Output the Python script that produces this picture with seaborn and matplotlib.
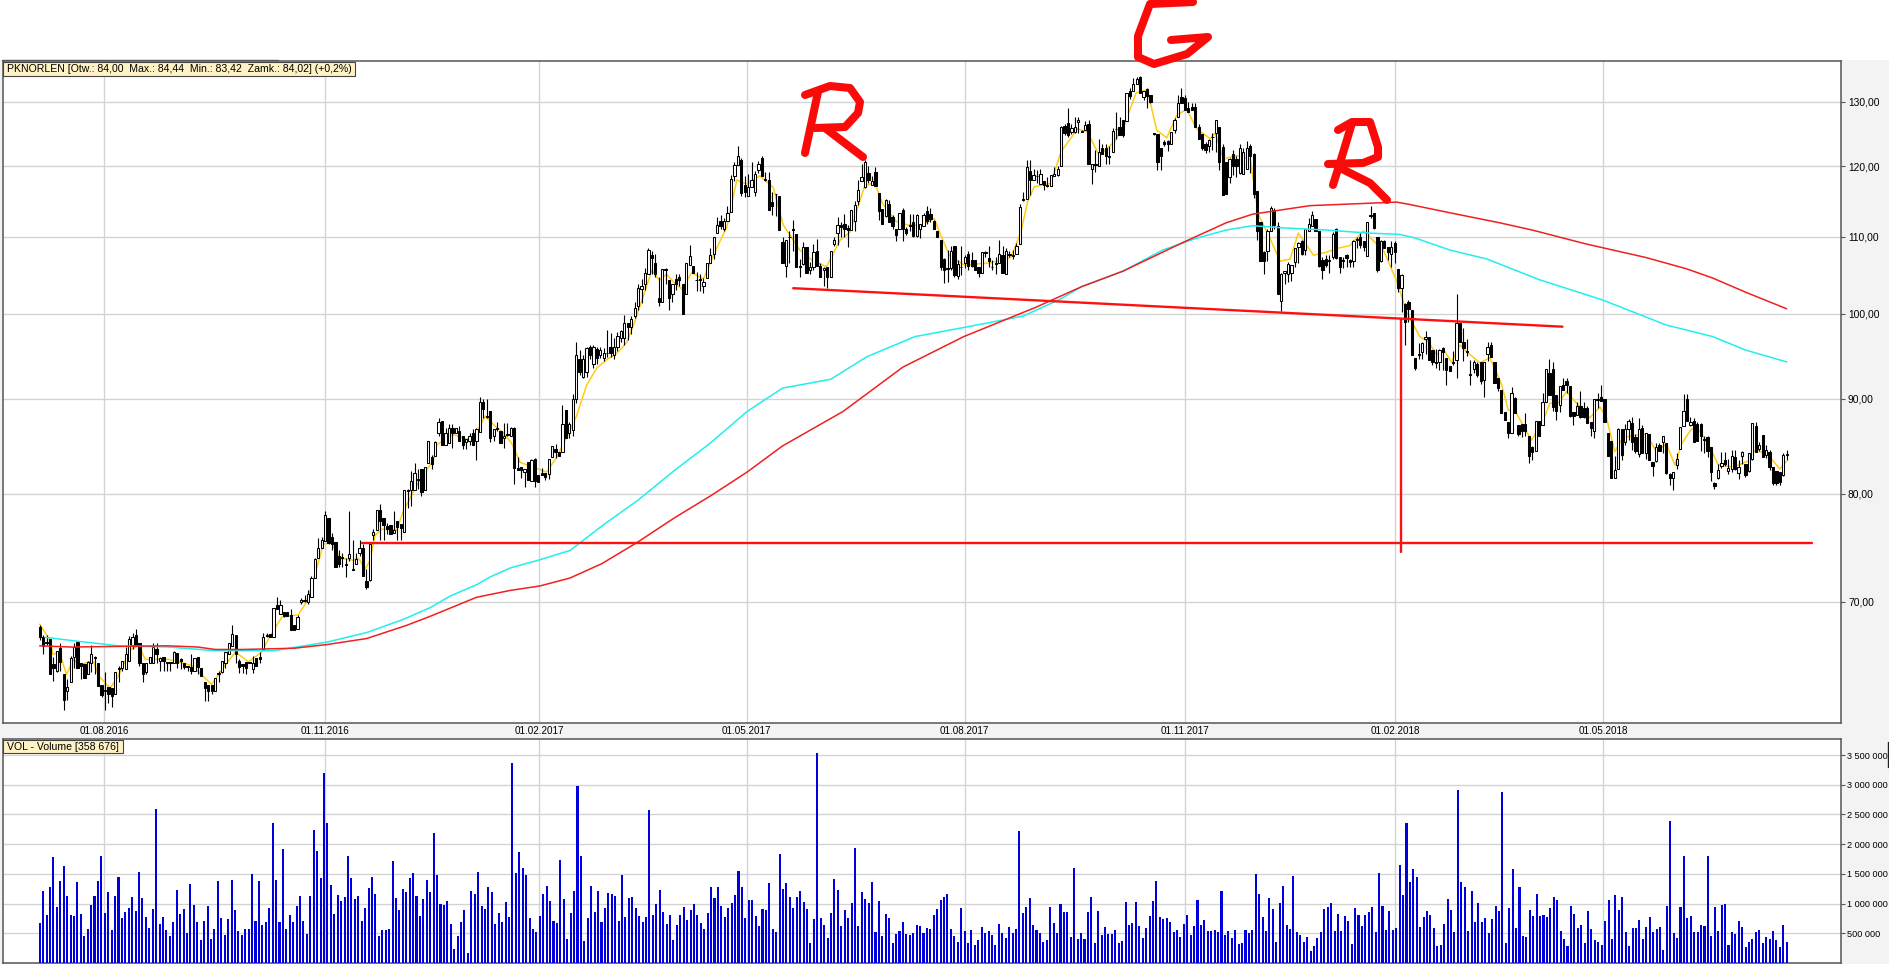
import numpy as np
import matplotlib
matplotlib.use("Agg")
import matplotlib.pyplot as plt
from matplotlib.lines import Line2D
from matplotlib.patches import Rectangle
import seaborn as sns

sns.set_theme(style="white")
plt.rcParams["font.family"] = ["Liberation Sans", "DejaVu Sans"]

# --- sesje: open / close / high / low ---
open_ = [
    67.9,67.0,66.6,66.9,64.8,64.3,66.1,64.0,62.7,63.4,
    65.4,66.6,64.9,64.8,64.0,64.9,65.4,64.9,63.2,62.8,
    63.0,62.9,62.5,64.5,64.5,64.4,65.1,66.4,67.2,66.5,
    64.9,64.2,64.9,64.9,66.0,65.1,65.4,65.0,65.0,64.9,
    65.7,65.2,64.9,64.7,64.6,64.3,65.4,64.5,63.4,63.2,
    63.2,62.7,64.1,64.2,64.9,65.6,66.3,67.2,65.1,64.8,
    65.0,65.0,64.4,65.3,65.4,66.0,67.2,67.3,67.0,69.7,
    69.0,69.1,69.1,68.9,68.0,67.7,70.0,70.2,70.0,70.4,
    72.1,73.9,74.8,75.5,77.7,75.9,75.4,74.1,73.9,73.4,
    73.9,72.9,73.4,74.4,74.8,71.8,71.9,76.0,76.5,78.4,
    77.7,76.9,77.0,76.2,77.4,77.1,76.3,80.4,80.4,80.4,
    81.5,82.5,80.4,83.1,83.7,83.8,86.3,87.6,85.0,85.2,
    86.8,86.3,86.5,86.0,85.3,85.4,86.3,85.4,86.4,89.7,
    88.1,88.7,86.0,86.8,86.5,85.7,86.2,86.0,86.8,82.6,
    82.7,82.2,83.2,81.3,83.5,81.9,82.1,82.1,82.0,83.7,
    84.6,84.3,84.3,88.8,86.3,86.6,90.0,94.5,92.5,93.0,
    96.0,94.0,95.7,95.0,94.7,95.3,96.0,95.0,96.0,97.0,
    97.0,98.8,98.4,99.7,100.9,103.1,103.8,105.0,107.5,106.5,
    102.0,101.4,105.7,104.2,102.4,104.4,104.6,103.8,102.5,106.2,
    106.1,104.3,104.4,103.5,104.5,106.5,107.6,110.5,112.1,111.0,
    112.1,113.4,118.5,120.2,121.0,117.3,115.7,116.9,116.3,119.5,
    121.3,118.1,118.0,114.8,116.0,115.7,109.3,106.1,110.0,111.0,
    110.3,106.1,106.4,108.6,105.5,106.0,108.1,106.1,105.6,105.9,
    104.6,109.0,110.5,111.6,111.7,111.2,110.9,112.2,115.0,117.8,
    117.0,119.0,117.3,119.1,116.1,113.8,112.8,114.5,112.7,111.0,
    111.0,113.7,111.0,111.6,112.0,110.1,111.1,111.5,113.6,113.1,
    112.2,110.7,109.5,107.0,105.8,105.8,108.7,104.8,106.0,106.5,
    107.7,106.9,106.8,105.9,105.1,107.9,107.1,106.0,106.4,106.5,
    107.5,105.0,107.6,107.5,107.6,109.0,115.2,115.2,119.3,118.0,
    118.6,117.4,117.8,117.2,117.1,118.6,118.7,120.0,126.2,126.6,
    125.2,125.2,126.8,125.4,125.5,126.4,119.6,120.3,120.1,122.8,
    122.8,121.5,122.2,125.7,126.0,127.0,126.9,131.8,131.8,132.9,
    134.1,130.8,132.0,131.1,125.0,124.9,122.7,123.6,123.8,123.4,
    125.5,127.5,130.8,130.6,129.0,129.2,129.2,126.0,124.9,123.4,
    123.1,124.5,125.0,126.0,122.9,120.6,118.4,121.9,121.1,119.0,
    118.9,119.6,123.0,121.9,116.4,112.0,107.9,108.0,110.8,113.7,
    111.5,101.6,105.2,105.0,105.1,106.6,108.6,109.4,108.2,110.7,
    111.5,112.4,110.7,106.9,107.0,106.8,107.3,111.0,107.3,106.9,
    107.5,106.8,106.7,109.7,109.9,109.4,107.4,112.8,113.2,110.0,
    106.7,109.4,108.6,107.6,109.2,105.7,103.2,101.2,101.4,100.4,
    94.7,95.1,95.4,96.9,97.2,95.6,94.2,94.2,95.8,94.7,
    93.7,94.2,94.4,98.8,96.5,95.5,92.8,93.4,94.0,94.2,
    92.1,95.1,96.2,94.2,92.3,91.0,88.5,87.5,86.3,90.1,
    87.1,87.2,87.2,85.9,84.8,84.4,87.6,87.1,89.6,92.9,
    93.4,90.4,89.3,91.5,92.0,91.4,88.5,88.2,89.2,89.0,
    89.0,87.4,86.5,90.0,90.2,90.0,86.3,85.4,81.6,82.5,
    86.7,85.3,86.7,87.3,85.8,84.1,86.8,84.2,86.2,83.2,
    83.3,85.0,85.3,85.2,82.0,81.6,82.9,84.6,87.0,90.0,
    87.1,87.6,87.2,87.2,85.6,85.8,84.8,81.1,81.6,82.8,
    83.4,82.3,82.5,83.7,82.1,83.9,83.0,82.3,83.5,87.0,
    84.6,86.1,84.0,84.3,82.7,82.3,82.2,81.9,84.0,
]
close = [
    67.0,66.3,66.5,64.0,64.5,65.9,65.0,62.0,63.0,65.3,
    66.2,64.5,64.7,63.7,65.0,65.6,65.3,63.1,62.4,62.7,
    62.5,62.3,64.2,64.4,65.1,65.6,66.9,67.0,66.4,64.9,
    64.0,64.9,65.4,66.2,65.6,65.3,65.1,64.9,64.9,65.8,
    64.9,65.1,64.6,64.6,64.3,65.3,64.6,63.9,62.9,62.7,
    62.7,63.7,64.0,65.1,65.8,66.5,67.3,65.6,64.6,64.7,
    64.5,64.9,64.9,64.7,65.2,67.0,67.1,67.0,69.5,69.4,
    69.7,68.8,68.8,67.6,67.6,68.7,70.2,70.1,70.7,72.1,
    73.8,74.8,75.6,77.9,75.3,75.2,73.1,73.4,74.0,73.3,
    74.3,72.8,73.8,74.8,72.3,71.3,75.2,76.3,78.4,77.4,
    77.0,76.6,76.1,76.5,76.8,76.7,80.4,80.3,81.3,82.1,
    81.4,80.2,82.7,85.4,83.0,85.3,87.4,85.0,86.3,86.8,
    86.3,86.8,85.4,85.0,85.6,85.9,85.0,86.7,89.7,88.9,
    88.0,85.7,86.7,86.7,85.2,86.0,86.1,86.8,82.6,82.4,
    82.4,82.5,81.4,83.4,81.3,81.2,81.9,81.7,83.5,84.9,
    84.3,83.9,87.2,85.7,87.2,90.0,95.0,93.0,94.5,95.8,
    95.0,96.0,94.7,95.6,95.2,95.2,95.2,96.0,97.3,97.9,
    98.8,98.4,99.4,100.7,103.2,103.5,105.2,108.2,107.1,105.0,
    101.5,105.7,105.6,101.9,103.8,103.8,104.2,99.9,106.5,107.4,
    105.1,104.2,104.3,104.0,106.5,107.5,110.0,111.6,111.5,112.1,
    113.3,118.2,120.2,121.6,116.1,116.2,116.9,118.0,118.8,120.3,
    118.6,118.0,113.7,114.3,115.9,110.9,106.5,109.6,109.9,110.9,
    106.0,106.0,108.6,105.2,106.0,107.9,106.1,104.6,105.8,104.6,
    108.1,109.5,111.6,111.3,111.0,110.9,113.7,114.4,116.6,118.4,
    120.6,118.0,117.8,117.1,113.5,111.8,115.1,112.0,111.4,110.2,
    113.2,111.0,110.5,111.5,110.1,113.0,111.8,113.0,112.2,112.4,
    111.0,109.9,106.0,105.6,105.7,108.0,104.9,106.3,105.9,107.2,
    106.1,106.1,105.6,105.1,107.9,107.8,106.7,105.9,106.5,107.6,
    105.2,108.0,107.5,107.4,108.7,114.1,115.1,119.9,118.0,118.7,
    118.5,118.8,117.2,117.1,118.7,118.8,119.6,126.0,125.1,124.7,
    125.9,126.0,127.1,125.2,126.3,120.3,120.3,120.2,122.2,121.9,
    121.5,121.4,125.4,125.6,124.7,124.7,131.4,130.9,132.8,133.7,
    131.4,131.8,130.9,130.0,124.9,120.7,121.6,123.4,123.4,125.2,
    127.0,129.7,129.7,128.7,128.4,128.7,126.0,124.1,122.7,122.5,
    123.9,124.4,127.1,120.6,115.8,115.9,121.1,120.1,120.0,122.7,
    122.2,122.7,121.5,116.0,110.8,106.7,106.7,110.8,113.9,111.6,
    102.5,105.0,105.4,106.4,106.2,108.5,109.1,107.7,111.0,111.8,
    113.0,110.7,106.1,105.6,106.2,106.7,110.3,107.1,106.0,106.7,
    107.1,106.6,109.4,109.6,108.8,108.6,112.0,113.0,111.2,105.5,
    109.4,108.5,107.9,108.6,107.9,103.2,104.9,99.0,100.6,95.0,
    93.5,95.0,96.4,97.2,94.4,94.2,94.1,95.6,95.4,93.3,
    93.1,94.1,98.8,96.5,95.8,95.4,92.7,94.2,92.7,92.0,
    94.2,95.9,94.8,91.8,91.2,88.4,87.7,86.3,90.7,88.4,
    86.2,86.5,86.5,83.8,84.3,87.6,85.9,89.6,93.4,90.4,
    89.1,88.6,91.4,91.0,91.5,88.1,88.1,89.2,88.0,88.0,
    87.3,86.8,90.0,89.9,89.8,87.4,83.9,81.6,82.4,86.7,
    84.0,86.7,87.6,85.3,84.4,86.7,84.2,86.3,83.4,82.8,
    84.8,84.4,85.9,82.1,81.6,82.2,83.5,86.9,88.6,87.6,
    87.5,85.3,85.4,86.0,85.5,84.4,82.2,80.8,82.4,83.1,
    83.0,82.6,83.8,82.5,82.7,84.3,81.9,84.2,87.3,84.3,
    85.0,83.7,84.5,82.7,81.1,81.1,81.2,84.0,84.02,
]
high = [
    68.0,67.2,67.2,66.9,65.4,65.9,66.5,64.0,63.6,65.5,
    66.5,66.7,64.9,64.8,65.1,66.4,65.5,64.9,63.2,64.2,
    63.0,62.9,64.2,64.7,65.1,66.2,67.1,67.4,67.7,66.5,
    64.9,64.9,65.4,66.5,66.5,65.4,65.4,65.0,65.0,65.9,
    65.7,65.3,64.9,64.7,65.6,65.3,65.4,64.5,63.4,63.2,
    63.2,63.7,64.3,65.1,65.8,66.5,68.0,67.2,65.2,64.8,
    65.0,65.0,65.5,65.3,65.8,67.4,67.4,67.3,69.5,70.4,
    70.2,69.1,69.1,69.4,68.0,68.9,70.3,70.6,71.0,72.3,
    73.9,75.8,75.9,78.3,77.7,76.2,75.4,74.6,74.4,73.9,
    78.3,75.6,74.4,75.6,75.2,72.9,75.2,76.6,78.4,79.0,
    77.7,77.2,77.0,78.3,77.4,77.1,80.4,80.5,82.3,83.1,
    82.5,82.5,82.7,85.4,84.0,85.4,87.9,87.6,86.8,87.2,
    87.2,86.8,87.0,86.0,85.6,86.3,86.7,86.8,90.2,90.0,
    90.0,88.7,86.7,87.5,86.5,87.3,87.3,86.9,86.9,83.7,
    82.7,82.5,83.2,83.5,83.6,81.9,82.6,82.1,83.5,84.9,
    85.1,84.3,89.3,88.8,87.5,90.5,96.6,95.6,95.0,96.0,
    96.2,96.2,96.0,96.0,95.8,98.0,97.6,97.0,97.7,98.0,
    99.8,98.8,99.7,101.5,103.7,104.4,105.8,108.5,108.0,107.6,
    104.6,105.7,105.8,104.2,103.8,105.0,105.0,103.8,106.5,108.8,
    106.1,105.3,105.0,104.5,106.5,108.5,110.0,112.7,113.0,112.6,
    114.3,118.7,120.7,123.0,121.2,118.5,118.8,120.7,119.3,120.8,
    121.6,119.2,119.2,116.3,116.0,115.7,110.0,109.6,110.7,112.3,
    110.3,107.0,109.3,108.6,106.6,109.0,109.7,106.5,106.0,105.9,
    108.1,110.0,112.7,112.0,113.1,111.6,113.7,115.0,118.0,120.3,
    120.9,120.0,118.5,119.9,116.1,113.8,115.2,115.1,113.0,111.0,
    113.3,113.9,111.3,113.1,113.1,113.1,111.8,113.2,114.3,113.9,
    112.3,110.7,109.5,107.1,108.2,108.7,108.7,106.8,108.7,107.5,
    108.0,107.9,106.8,105.9,107.9,108.0,108.7,106.8,107.2,109.5,
    108.7,108.5,108.0,108.2,109.2,114.6,116.3,121.0,120.9,119.6,
    119.5,119.6,117.8,118.4,118.7,119.9,120.1,126.1,126.5,128.9,
    126.5,127.5,127.6,125.5,126.9,127.0,120.3,122.4,124.2,123.3,
    123.4,123.1,125.9,128.3,127.5,127.0,131.4,132.2,133.8,134.1,
    134.2,131.8,132.2,131.1,125.0,124.9,122.7,124.0,124.0,125.2,
    127.4,131.1,132.2,131.0,130.0,129.8,129.8,126.4,124.9,123.6,
    124.2,125.0,127.1,126.0,123.4,120.6,121.3,122.5,121.6,123.4,
    122.7,123.8,123.4,122.0,116.4,112.0,108.0,111.0,114.3,114.0,
    112.0,105.1,105.4,106.6,106.2,108.5,109.3,109.6,111.0,112.5,
    113.6,112.4,110.7,107.2,107.5,107.5,110.6,111.2,107.3,107.2,
    107.6,107.0,109.5,110.0,110.5,109.4,112.0,114.3,113.2,110.0,
    109.5,109.6,108.6,109.4,109.4,105.7,105.0,101.3,101.7,100.5,
    94.7,96.4,96.5,97.9,97.2,95.6,95.7,95.7,95.9,94.7,
    93.7,95.5,102.4,98.8,98.2,96.9,94.4,94.4,94.2,94.2,
    94.2,96.6,96.6,94.2,92.3,91.0,88.5,87.5,91.3,90.2,
    87.1,87.2,88.4,85.9,84.9,87.6,87.6,90.7,93.4,94.5,
    94.2,90.4,91.4,92.4,92.3,91.4,88.5,89.6,90.9,89.6,
    89.2,87.4,90.0,90.7,91.6,90.0,86.3,85.4,83.9,86.8,
    86.7,87.2,87.8,88.0,86.2,87.9,87.1,86.3,86.2,83.2,
    85.2,85.2,85.9,85.2,82.1,82.2,84.2,86.9,90.5,90.5,
    88.0,87.9,87.4,87.3,86.0,86.0,84.8,81.2,83.0,84.3,
    84.3,83.5,84.5,84.5,83.4,84.4,83.0,84.2,87.3,87.5,
    85.3,86.1,85.0,84.5,82.7,82.3,82.2,84.2,84.44,
]
low = [
    66.8,65.6,66.4,64.0,63.5,64.2,64.3,61.2,62.0,63.4,
    64.5,64.5,63.6,63.7,64.0,64.2,64.0,63.1,62.2,61.2,
    61.8,61.5,62.5,63.4,64.3,64.4,65.1,66.0,66.4,64.7,
    63.4,64.0,64.9,64.9,64.9,64.3,64.3,64.3,64.3,64.9,
    64.5,64.4,64.4,64.3,64.0,64.3,64.0,63.9,61.9,61.9,
    62.5,62.7,63.4,64.1,64.5,65.6,66.3,64.9,64.1,64.1,
    64.0,64.9,64.1,64.7,64.9,66.0,67.0,67.0,67.0,69.4,
    69.0,68.7,68.8,67.6,67.6,67.7,69.8,70.0,69.8,70.4,
    72.1,73.9,74.8,75.5,75.2,74.6,73.1,73.1,73.1,72.2,
    73.6,72.8,73.4,74.1,72.3,71.1,71.8,75.6,76.5,75.6,
    75.6,76.1,76.1,76.2,75.6,75.6,76.3,78.6,78.8,80.4,
    80.5,79.8,80.4,83.1,82.5,83.8,85.9,85.0,85.0,85.2,
    84.7,86.3,85.4,84.6,84.6,85.0,85.0,83.4,86.4,87.9,
    87.9,85.3,85.4,86.5,85.2,84.7,86.0,86.0,81.0,82.4,
    81.6,80.7,81.4,81.3,80.7,81.2,81.9,81.4,81.5,83.7,
    83.6,83.9,84.3,85.7,85.7,86.0,89.5,92.7,92.3,92.5,
    94.5,93.5,94.0,94.7,94.3,94.8,94.8,94.5,95.5,96.5,
    96.2,96.8,97.5,99.5,100.5,101.3,103.0,105.0,105.0,104.6,
    101.0,101.4,103.7,100.5,101.5,103.0,103.5,99.9,102.5,106.2,
    105.1,102.9,102.9,102.6,104.5,106.5,107.0,110.5,111.0,110.8,
    112.1,113.4,117.9,120.2,115.7,115.5,115.7,116.9,115.6,119.0,
    118.6,117.8,113.7,113.0,112.9,110.9,106.5,104.7,106.5,108.0,
    106.0,104.7,106.2,105.2,105.0,105.5,106.1,104.6,103.5,103.2,
    104.6,108.7,108.8,110.0,110.0,108.6,110.9,110.7,114.4,117.8,
    116.8,117.5,117.2,117.1,112.3,111.7,112.7,112.0,111.0,109.4,
    111.0,109.4,110.2,110.8,110.0,110.0,109.8,111.5,111.8,112.0,
    111.0,109.9,105.6,103.9,104.0,105.6,104.6,104.4,104.9,105.8,
    105.6,106.0,105.6,104.6,105.1,107.2,106.0,105.6,105.0,106.5,
    105.1,105.0,107.3,107.0,107.6,109.0,115.0,115.2,115.8,118.0,
    117.5,117.4,116.5,117.0,117.1,118.5,118.5,120.0,124.7,124.4,
    124.9,125.0,125.0,125.2,125.5,120.3,117.4,119.1,120.1,121.9,
    120.4,120.3,122.2,124.1,124.7,124.4,126.9,130.5,131.8,132.9,
    131.4,130.2,128.9,129.7,124.7,119.5,119.5,123.0,122.3,123.4,
    125.0,127.5,129.7,128.7,128.4,128.7,126.0,124.1,122.4,122.0,
    122.2,122.4,122.2,119.5,115.8,115.9,117.5,118.7,118.4,118.8,
    118.9,119.6,119.0,115.4,109.5,106.7,105.0,106.7,110.8,111.0,
    102.4,100.3,103.8,104.0,104.1,106.0,106.5,107.5,107.5,110.7,
    111.5,110.7,106.0,104.4,106.0,105.1,107.0,107.0,105.2,105.8,
    106.0,105.9,106.0,108.5,108.5,108.0,107.4,112.5,111.0,105.3,
    106.6,108.5,106.8,106.0,106.5,102.7,100.2,96.2,99.0,95.0,
    93.3,94.5,94.5,95.1,94.4,93.8,93.5,93.3,93.3,91.5,
    93.1,93.9,92.3,96.5,94.3,94.9,91.6,92.9,92.5,91.7,
    90.2,94.3,94.8,91.8,90.9,88.4,87.7,85.7,86.3,88.4,
    86.0,85.8,85.9,83.1,83.4,84.4,85.9,87.1,89.6,90.4,
    88.6,87.7,88.5,91.0,90.6,88.0,87.1,88.2,87.9,87.9,
    87.3,85.9,85.7,89.0,89.8,87.4,83.9,81.6,81.6,82.5,
    83.4,85.0,85.5,84.5,84.2,83.7,84.2,83.5,83.4,81.8,
    83.2,84.4,84.2,82.0,80.9,80.4,82.5,84.6,87.0,87.6,
    87.0,85.3,85.4,84.4,84.2,83.7,81.3,80.5,81.5,82.6,
    82.8,82.0,82.2,82.4,81.5,83.0,81.7,82.2,83.4,84.3,
    84.4,83.7,83.6,82.4,80.9,80.9,80.9,81.8,83.42,
]

# wolumen w tysiacach sztuk
volume_k = [
    672,1210,806,1277,1780,940,1378,1630,1125,806,790,1360,823,454,571,974,1125,1378,1798,840,
    1193,554,1125,1445,756,857,924,1109,874,1529,1092,773,588,907,2587,655,773,554,454,689,
    1226,823,907,504,1327,974,689,386,706,958,403,571,1378,756,470,739,1394,890,538,470,
    571,571,1495,706,1378,638,689,924,2352,1394,689,1915,571,806,689,958,1125,706,487,1125,
    2234,1882,1428,3200,2352,1310,823,1142,1042,1109,1798,1428,1075,1125,706,924,1260,1445,1159,454,
    554,554,571,1714,1092,890,1243,1193,1428,1512,1125,790,1075,1394,1193,2184,1478,991,974,1042,
    655,235,454,689,890,168,1210,1159,1529,958,907,1277,1193,655,840,689,1025,773,3360,1512,
    1865,1596,1478,756,571,521,790,1159,1294,1042,706,672,1730,1075,403,840,1210,2974,1798,370,
    756,1294,857,1210,689,924,1176,1159,1126,706,1478,773,1092,1109,924,790,689,773,2570,806,
    991,1226,857,655,806,386,638,806,941,722,890,991,806,672,571,840,1277,1092,1277,958,
    773,924,1008,1142,1546,1277,756,1058,1058,790,622,907,890,1344,571,521,1831,1243,1344,1109,
    924,1109,1210,1025,907,336,739,3528,756,638,420,840,1411,1226,622,890,756,1008,1932,622,
    1193,1075,1008,1361,521,1042,454,823,756,336,487,538,689,487,470,504,638,622,504,588,
    571,806,907,
    1058,1109,1159,571,454,353,924,538,336,554,302,386,605,504,538,470,302,655,504,420,
    605,504,571,2218,840,941,1092,638,554,504,353,386,941,672,504,991,857,857,437,1596,
    403,504,403,857,1109,336,874,470,605,487,487,554,336,370,1025,638,672,1025,622,420,
    588,790,1042,1378,773,739,756,689,521,554,437,655,806,470,622,1058,638,722,538,538,
    554,521,1210,470,538,420,554,319,336,554,504,554,1495,1159,773,538,1092,907,353,1008,
    1294,638,571,1462,521,470,353,437,202,286,420,521,907,941,1008,538,823,538,790,706,
    319,924,806,622,806,857,941,521,1512,958,554,874,554,588,1646,1142,2352,1361,1579,1445,
    605,773,874,806,588,286,302,655,1075,890,521,2906,1361,1277,538,1210,689,1008,689,756,
    504,739,958,874,2873,336,924,1579,588,1277,454,437,890,790,1159,790,806,773,924,1109,
    1058,538,403,286,958,823,588,638,336,874,571,386,353,302,706,1058,
    403,1142,890,1109,521,286,588,588,722,403,605,773,521,571,605,218,958,2386,504,420,
    941,1798,756,790,521,521,638,622,1798,454,941,538,974,991,302,521,487,706,605,269,
    353,403,521,554,336,437,403,538,386,269,638,353,
]

# srednie kroczace: numer sesji i kurs
yellow_x = [1,4.1,4.8,6.7,8.8,10.9,12.3,15.2,16.7,18.1,21.5,23.9,27.4,29.8,31.7,38.5,45.3,51,54,57.9,61.7,65.6,67.6,71.4,
            76.2,78.6,80.6,83.5,85.9,88.3,92.2,93.7,95.6,97.1,98.5,100.5,104.8,106.7,110.1,112.6,115.5,116.4,121.3,125.2,127.6,130.5,132.9,135.8,138.2,140.7,143.6,148.4,151.3,154.2,
            157,160,163,166,
            168.8,171.7,174.1,177.5,179,181.2,183.3,185.7,187.7,190.6,194,197.8,200.8,203.7,206.6,210.4,214.3,217.2,222,226,229.8,233.7,236.6,
            240.8,243.7,246.1,250,253.4,257.3,261.1,263.1,265.5,269.8,277.6,283.4,286.3,288.3,290.2,295,298,302.8,305.7,309.1,313.5,316.4,319.8,323.1,
            325.8,328.7,331.6,334.5,337.4,341.3,342.8,345.2,349,353,355.4,358.8,361.7,364.6,367,371.4,375.2,378.1,382,385.9,389.3,391.7,395.6,398.5,
            402.3,404.7,407.2,409.6,411.5,414,415.9,419.8,422.7,426.1,428,430.4,434.8,438.2,440.1,442.5,445,447.9,451.7,454.7,456.6,459,461.4,468.2,471.1,474,476.5,478.4,481.3,483.7,486.6,489,493.4,498.3,499.2,503.1,507,508.9]
yellow_y = [68.1,66.7,65.6,65.8,64,65.2,64.7,65,65,63.9,62.9,63.9,66,66.3,65.2,65.2,64.7,63.2,64.4,65.8,65,65.8,66.9,68.7,
            68.9,70,71.9,75.2,75.3,73.9,73.7,73.9,72.9,73.7,76,76.6,76.5,78.3,80.5,82,83.4,85,86.1,85.6,86,88.1,87.2,86.3,85.2,83.2,82.8,82.2,83.7,85.8,
            88,91.5,93.5,94.5,
            95.2,96.5,99.1,103.5,105.5,104.2,105,103.8,103.1,105.2,104.4,108.4,111.3,118,117.4,118.6,116.9,111.6,108.2,106.7,106,109.5,110.6,
            117,117.7,114.6,112.1,111.6,111.5,112.5,110.1,107.5,106.2,106.5,107.2,110.6,114.9,117,117.5,122.2,125.7,125.2,121.6,123.7,126.3,131.4,131.9,
            125.5,124.3,127.8,128.8,125.7,124.2,125,121.1,121.6,121.1,113,109.7,106.7,107,110.5,107.5,107.9,108.4,108.8,110.8,109.2,108.2,104.1,100.2,
            97.2,96.6,95.1,95.4,94.2,96.2,95.4,94.1,94.7,91.6,88.8,88.4,85.5,87.6,89.5,89.5,90.8,89.5,87.9,89.1,87.9,84.3,85.8,86.2,84.3,85.1,82.9,85.1,86.7,86.5,84.8,83,82.7,83.4,84.4,84.2,82.5,83.3]

cyan_x = [2.6,11.3,23.8,38.4,52,69,84.5,96.1,106.7,114.5,120.3,128,132,137.8,145.9,155.2,164.5,175,185.7,196,206.7,217,231,241.5,255.5,269.7,287,297.7,304,316,327.6,337.5,346,353.7,362.5,375,386.9,396.5,401,411,421.8,437,455.5,474,487.5,497,509]
cyan_y = [67,66.7,66.3,66.2,65.9,65.9,66.6,67.4,68.5,69.5,70.5,71.5,72.2,73,73.7,74.6,76.9,79.4,82.4,85.2,88.6,91.2,92.2,94.8,97.2,98.3,99.7,101.8,103.4,105.4,108.2,109.8,110.9,111.5,111.2,110.9,110.5,110.3,109.8,108.2,107,104.3,101.7,98.6,97.2,95.6,94.2]

red_x = [1,10,38,47,52,60,75,84.5,96.1,107.7,114,122.3,128,137.8,146.5,155.2,164.5,175,185.7,196,206.7,217,234.6,252,269.7,290.7,304,316,333.4,346,353.7,370.4,395.6,399,411,425.5,435,450.7,468,479.9,487.5,497,509]
red_y = [66.3,66.2,66.3,66.2,66,66,66.1,66.4,66.9,68,68.7,69.7,70.4,71,71.4,72.1,73.4,75.4,77.7,79.8,82.2,84.9,88.6,93.6,97.2,100.8,103.4,105.4,109.2,111.9,113.1,114.3,114.8,114.5,113.3,111.9,110.9,109,107.2,105.7,104.5,102.7,100.6]

# kreski narysowane recznie na wykresie
neck_x = [220.1,443.8]
neck_y = [103.2,98.4]
target_x = [94.8,516.4]
target_y = [75.3,75.3]
drop_x = [396.7,396.7]
drop_y = [99.4,74.5]

# litery R G R (piksele obrazka)
letter_r1 = [[(818,92),(805,153)], [(805,95),(830,86),(850,88),(860,102),(858,113),(845,127),(815,128)], [(825,128),(863,157)]]
letter_g = [[(1193,2),(1150,4),(1138,36),(1138,57),(1154,64),(1187,54),(1208,37),(1171,40)]]
letter_r2 = [[(1338,130),(1352,122),(1370,122),(1378,147),(1378,157),(1363,163),(1328,164)], [(1352,123),(1343,153),(1333,185)], [(1340,168),(1370,183),(1387,200)]]

price_ticks = [70,80,90,100,110,120,130]
price_labels = ["70,00","80,00","90,00","100,00","110,00","120,00","130,00"]
vol_ticks = [500000,1000000,1500000,2000000,2500000,3000000,3500000]
vol_labels = ["500 000","1 000 000","1 500 000","2 000 000","2 500 000","3 000 000","3 500 000"]
date_ticks = [19.84,84.1,146.3,206.6,270,334.1,395.2,455.7]
date_labels = ["01.08.2016","01.11.2016","01.02.2017","01.05.2017","01.08.2017","01.11.2017","01.02.2018","01.05.2018"]
header_text = "PKNORLEN [Otw.: 84,00  Max.: 84,44  Min.: 83,42  Zamk.: 84,02] (+0,2%)"
vol_text = "VOL - Volume [358 676]"

W, H = 1889, 964
GRID = "#d3d3d3"
EDGE = "#555555"


def px_box(x0, y0, x1, y1):
    return [x0 / W, 1 - y1 / H, (x1 - x0) / W, (y1 - y0) / H]


fig = plt.figure(figsize=(W / 100, H / 100), dpi=100, facecolor="#f3f3f3")
fig.add_artist(Rectangle((0, 1 - 60 / H), 1, 60 / H, transform=fig.transFigure, color="white", lw=0))
ax = fig.add_axes(px_box(2.5, 61, 1841, 723))
ax_vol = fig.add_axes(px_box(2.5, 739, 1841, 963))

bar_no = np.arange(1, len(close) + 1)
o, c, h, l = map(np.array, (open_, close, high, low))
up = c >= o

# swiece
ax.vlines(bar_no, np.minimum(l, np.minimum(o, c)), np.maximum(h, np.maximum(o, c)), color="black", lw=0.8, zorder=3)
ax.set_yscale("log")
body_lo = np.minimum(o, c)
body_hi = np.maximum(o, c)
ax.bar(bar_no[up], body_hi[up] - body_lo[up], bottom=body_lo[up], width=0.66, color="white", edgecolor="black", lw=0.75, zorder=3.1)
ax.bar(bar_no[~up], body_hi[~up] - body_lo[~up], bottom=body_lo[~up], width=0.66, color="black", edgecolor="black", lw=0.75, zorder=3.1)

sns.lineplot(x=yellow_x, y=yellow_y, color="#ffcc11", lw=1.1, sort=False, estimator=None, ax=ax, zorder=2.9)
sns.lineplot(x=cyan_x, y=cyan_y, color="#22eeee", lw=1.1, sort=False, estimator=None, ax=ax, zorder=4)
sns.lineplot(x=red_x, y=red_y, color="#f02020", lw=1.1, sort=False, estimator=None, ax=ax, zorder=4.1)
for xs, ys in ((neck_x, neck_y), (target_x, target_y), (drop_x, drop_y)):
    sns.lineplot(x=xs, y=ys, color="#ff1010", lw=1.7, sort=False, estimator=None, ax=ax, zorder=5)

# wolumen
vol_x = np.linspace(1, len(close), len(volume_k))
sns.barplot(x=vol_x, y=np.array(volume_k) * 1000, native_scale=True, color="#0000dd", saturation=1, width=0.6, linewidth=0, edgecolor="none", ax=ax_vol, zorder=3)

x_left = 1 + (2.5 - 39.7) / 3.439
x_right = 1 + (1841 - 39.7) / 3.439
ax.set_xlim(x_left, x_right)
ax.set_ylim(60.26, 136.7)
ax_vol.set_xlim(x_left, x_right)
ax_vol.set_ylim(0, 3770000)

for a in (ax, ax_vol):
    a.set_xlabel("")
    a.set_ylabel("")
    a.set_xticks(date_ticks)
    a.minorticks_off()
    a.yaxis.tick_right()
    a.grid(True, color=GRID, lw=0.95)
    a.set_axisbelow(True)
    a.set_facecolor("white")
    for sp in a.spines.values():
        sp.set_visible(True)
        sp.set_color(EDGE)
        sp.set_linewidth(1.1)
ax.set_yticks(price_ticks)
ax.set_yticklabels(price_labels)
ax.minorticks_off()
ax_vol.set_yticks(vol_ticks)
ax_vol.set_yticklabels(vol_labels)
ax.set_xticklabels(date_labels)
ax_vol.set_xticklabels([])
ax.tick_params(axis="x", length=0, labelsize=7.1, pad=2.5, colors="black")
ax_vol.tick_params(axis="x", length=0)
ax.tick_params(axis="y", right=True, length=3, width=0.8, color=EDGE, labelsize=7.4, pad=2, labelcolor="black")
ax_vol.tick_params(axis="y", right=True, length=3, width=0.8, color=EDGE, labelsize=6.6, pad=1.5, labelcolor="black")

# etykiety z gornego rogu paneli
for (x0, y0, x1, y1, txt) in ((3, 62, 355, 75.5, header_text), (3, 740, 123, 753, vol_text)):
    fig.add_artist(Rectangle((x0 / W, 1 - y1 / H), (x1 - x0) / W, (y1 - y0) / H, transform=fig.transFigure,
                             facecolor="#fff2c4", edgecolor="#444444", lw=0.8, zorder=10))
    fig.text((x0 + 4) / W, 1 - (y0 + y1) / 2 / H, txt, fontsize=7.6, va="center", ha="left", color="black", zorder=11)

fig.add_artist(Line2D([2 / W, 278 / W], [1 - 59.5 / H, 1 - 59.5 / H], color=EDGE, lw=1, transform=fig.transFigure))
fig.add_artist(Line2D([1888 / W, 1888 / W], [1 - 742 / H, 1 - 767 / H], color="#222222", lw=1, transform=fig.transFigure))

# odreczne litery
for letter in (letter_r1, letter_g, letter_r2):
    for stroke in letter:
        xs = [p[0] / W for p in stroke]
        ys = [1 - p[1] / H for p in stroke]
        fig.add_artist(Line2D(xs, ys, color="#fb0a0a", lw=5.8, solid_capstyle="round", solid_joinstyle="round",
                              transform=fig.transFigure, zorder=12))

fig.savefig("out.png", dpi=100)
